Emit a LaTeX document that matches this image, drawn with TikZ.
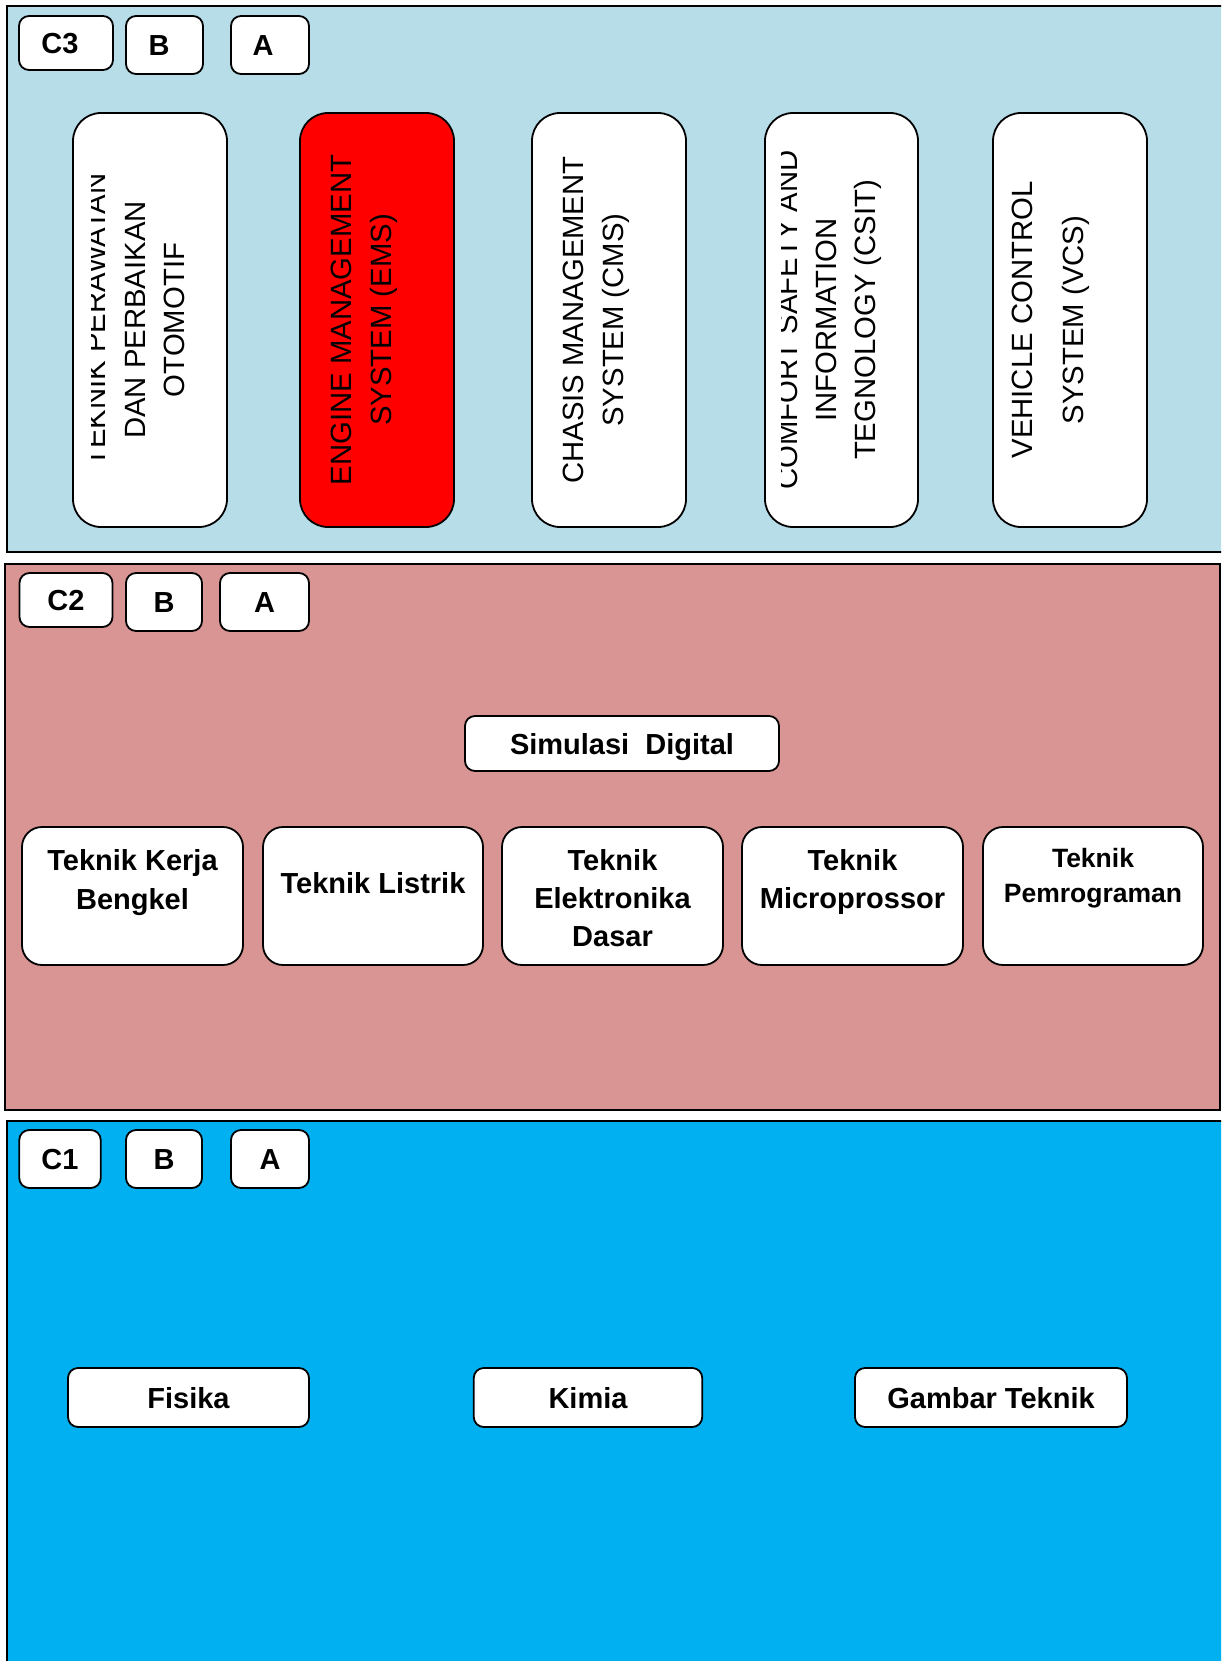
\documentclass[tikz,border=0pt]{standalone}
\usepackage{fontspec}
\setmainfont{Liberation Sans}
\definecolor{panelA}{HTML}{B7DDE8}
\definecolor{panelB}{HTML}{D99594}
\definecolor{panelC}{HTML}{00B0F0}
\definecolor{emsred}{HTML}{FF0000}
\begin{document}
\begin{tikzpicture}[x=1pt,y=-1pt,
  panel/.style={draw=black, line width=1.6pt},
  bigbox/.style={draw=black, line width=1.8pt, rounded corners=28pt, fill=white, inner sep=0pt, minimum height=414pt},
  midbox/.style={draw=black, line width=1.8pt, rounded corners=20pt, fill=white, inner sep=0pt, minimum height=138pt},
  tagbox/.style={draw=black, line width=1.8pt, rounded corners=10pt, fill=white, inner sep=0pt,
     text height=21pt, text depth=0pt, font=\bfseries\fontsize{29}{35}\selectfont},
  vt/.style={font=\fontsize{29.3}{35}\selectfont, inner sep=0pt, rotate=90, anchor=base},
  bt/.style={font=\bfseries\fontsize{29}{35}\selectfont, inner sep=0pt, anchor=base},
  bts/.style={font=\bfseries\fontsize{26.5}{32}\selectfont, inner sep=0pt, anchor=base}
]
\clip (0,0) rectangle (1221,1661);
\fill[white] (0,0) rectangle (1221,1661);

% ---------- panels ----------
\path[panel, fill=panelA] (7,6) rectangle (1240,552);
\path[panel, fill=panelB] (5,564) rectangle (1220,1110);
\path[panel, fill=panelC] (7,1121) rectangle (1240,1700);

% ---------- C3 panel ----------
\node[tagbox, minimum width=94pt, minimum height=54pt] (c3) at (66,43) {C3\hspace*{12pt}};
\node[tagbox, minimum width=77pt, minimum height=58pt] (c3b) at (164.5,45) {B\hspace*{11pt}};
\node[tagbox, minimum width=78pt, minimum height=58pt] (c3a) at (270,45) {A\hspace*{14pt}};

\node[bigbox, minimum width=154pt] (k1) at (150,320) {};
\node[bigbox, minimum width=154pt, fill=emsred] (k2) at (377,320) {};
\node[bigbox, minimum width=154pt] (k3) at (609,320) {};
\node[bigbox, minimum width=153pt] (k4) at (841.5,320) {};
\node[bigbox, minimum width=154pt] (k5) at (1070,320) {};

\begin{scope}
  \clip (91,115) rectangle (226,525);
  \node[vt] (k1l1) at (105,320) {TEKNIK PERAWATAN};
  \node[vt] (k1l2) at (145,320) {DAN PERBAIKAN};
  \node[vt] (k1l3) at (184,320) {OTOMOTIF};
\end{scope}

\node[vt] (k2l1) at (351,320) {ENGINE MANAGEMENT};
\node[vt] (k2l2) at (391,320) {SYSTEM (EMS)};

\node[vt] (k3l1) at (583,320) {CHASIS MANAGEMENT};
\node[vt] (k3l2) at (623,320) {SYSTEM (CMS)};

\begin{scope}
  \clip (781,115) rectangle (917,525);
  \node[vt] (k4l1) at (797,320) {COMFORT SAFETY AND};
  \node[vt] (k4l2) at (836,320) {INFORMATION};
  \node[vt] (k4l3) at (875,320) {TEGNOLOGY (CSIT)};
\end{scope}

\node[vt] (k5l1) at (1032,320) {VEHICLE CONTROL};
\node[vt] (k5l2) at (1083,320) {SYSTEM (VCS)};

% ---------- C2 panel ----------
\node[tagbox, minimum width=93pt, minimum height=54pt] (c2) at (66,600) {C2};
\node[tagbox, minimum width=76pt, minimum height=58pt] (c2b) at (164,602) {B};
\node[tagbox, minimum width=89pt, minimum height=58pt] (c2a) at (264.5,602) {A};

\node[tagbox, minimum width=314pt, minimum height=55pt] (sim) at (622,743.5) {Simulasi\ \ Digital};

\node[midbox, minimum width=221pt] (m1) at (132.5,896) {};
\node[midbox, minimum width=220pt] (m2) at (373,896) {};
\node[midbox, minimum width=221pt] (m3) at (612.5,896) {};
\node[midbox, minimum width=221pt] (m4) at (852.5,896) {};
\node[midbox, minimum width=220pt] (m5) at (1093,896) {};

\node[bt] (m1l1) at (132.5,870) {Teknik Kerja};
\node[bt] (m1l2) at (132.5,909) {Bengkel};
\node[bt] (m2l1) at (373,893) {Teknik Listrik};
\node[bt] (m3l1) at (612.5,870) {Teknik};
\node[bt] (m3l2) at (612.5,908) {Elektronika};
\node[bt] (m3l3) at (612.5,946) {Dasar};
\node[bt] (m4l1) at (852.5,870) {Teknik};
\node[bt] (m4l2) at (852.5,908) {Microprossor};
\node[bts] (m5l1) at (1093,867) {Teknik};
\node[bts] (m5l2) at (1093,902) {Pemrograman};

% ---------- C1 panel ----------
\node[tagbox, minimum width=81.5pt, minimum height=58pt] (c1) at (60,1159) {C1};
\node[tagbox, minimum width=76pt, minimum height=58pt] (c1b) at (164,1159) {B};
\node[tagbox, minimum width=78pt, minimum height=58pt] (c1a) at (270,1159) {A};

\node[tagbox, minimum width=241pt, minimum height=59pt] (fis) at (188.5,1397.5) {Fisika};
\node[tagbox, minimum width=228.5pt, minimum height=59pt] (kim) at (588,1397.5) {Kimia};
\node[tagbox, minimum width=272pt, minimum height=59pt] (gbr) at (991,1397.5) {Gambar Teknik};
\end{tikzpicture}
\end{document}
